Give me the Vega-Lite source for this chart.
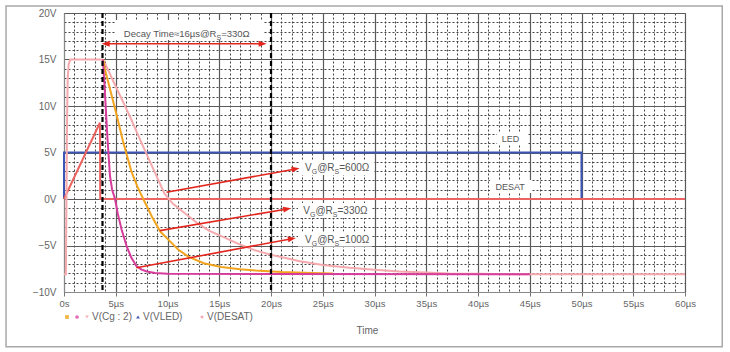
{
"$schema":"https://vega.github.io/schema/vega-lite/v6.json",
"width":621,"height":279,"autosize":"none",
"padding":{"left":64,"top":13,"right":45,"bottom":60},
"background":"white",
"config":{"font":"Liberation Sans, Arial, sans-serif","view":{"stroke":"#888","strokeWidth":1}},
"datasets":{
"curves":[
{"series":"VLED","t":0,"v":0},{"series":"VLED","t":0.001,"v":5},{"series":"VLED","t":49.999,"v":5},{"series":"VLED","t":50,"v":0},
{"series":"DESAT","t":0,"v":0},{"series":"DESAT","t":3.47,"v":8.2},{"series":"DESAT","t":3.5,"v":0},{"series":"DESAT","t":60,"v":0},
{"series":"g600","t":0,"v":-8.1},{"series":"g600","t":0.18,"v":-8.1},{"series":"g600","t":0.24,"v":0},{"series":"g600","t":0.3,"v":9},{"series":"g600","t":0.36,"v":13},{"series":"g600","t":0.45,"v":14.5},{"series":"g600","t":0.6,"v":15},{"series":"g600","t":3.7,"v":15},{"series":"g600","t":4.0,"v":14.5},{"series":"g600","t":5.0,"v":12.1},{"series":"g600","t":6.4,"v":8.8},{"series":"g600","t":7.5,"v":6},{"series":"g600","t":8.8,"v":2.8},{"series":"g600","t":9.7,"v":0.6},{"series":"g600","t":10.5,"v":-0.5},{"series":"g600","t":11.4,"v":-1.3},{"series":"g600","t":12.9,"v":-2.6},{"series":"g600","t":14,"v":-3.4},{"series":"g600","t":15.2,"v":-4.0},{"series":"g600","t":16.8,"v":-4.8},{"series":"g600","t":18.4,"v":-5.5},{"series":"g600","t":20,"v":-6.0},{"series":"g600","t":22.8,"v":-6.7},{"series":"g600","t":25,"v":-7.1},{"series":"g600","t":27.6,"v":-7.4},{"series":"g600","t":30,"v":-7.6},{"series":"g600","t":32.4,"v":-7.8},{"series":"g600","t":35,"v":-7.9},{"series":"g600","t":37.2,"v":-8.0},{"series":"g600","t":40,"v":-8.05},{"series":"g600","t":45,"v":-8.1},{"series":"g600","t":60,"v":-8.1},
{"series":"g330","t":3.8,"v":15},{"series":"g330","t":3.9,"v":14.2},{"series":"g330","t":5.0,"v":9.4},{"series":"g330","t":5.7,"v":6.2},{"series":"g330","t":6.5,"v":3.0},{"series":"g330","t":7.1,"v":1.3},{"series":"g330","t":7.66,"v":0},{"series":"g330","t":8.5,"v":-1.9},{"series":"g330","t":9.3,"v":-3.5},{"series":"g330","t":10.1,"v":-4.4},{"series":"g330","t":11.0,"v":-5.4},{"series":"g330","t":12.0,"v":-6.2},{"series":"g330","t":13.5,"v":-6.9},{"series":"g330","t":15.2,"v":-7.3},{"series":"g330","t":17.0,"v":-7.55},{"series":"g330","t":18.5,"v":-7.7},{"series":"g330","t":21,"v":-7.85},{"series":"g330","t":24,"v":-7.95},{"series":"g330","t":26,"v":-8.0},
{"series":"g100","t":3.75,"v":15},{"series":"g100","t":3.9,"v":12.5},{"series":"g100","t":4.05,"v":9.5},{"series":"g100","t":4.2,"v":6.5},{"series":"g100","t":4.44,"v":2.5},{"series":"g100","t":4.65,"v":1.0},{"series":"g100","t":4.93,"v":0},{"series":"g100","t":5.2,"v":-1.6},{"series":"g100","t":5.57,"v":-3.3},{"series":"g100","t":6.06,"v":-5.1},{"series":"g100","t":6.5,"v":-6.3},{"series":"g100","t":7.0,"v":-7.2},{"series":"g100","t":7.5,"v":-7.6},{"series":"g100","t":8.0,"v":-7.8},{"series":"g100","t":8.8,"v":-7.95},{"series":"g100","t":10,"v":-8.05},{"series":"g100","t":45,"v":-8.1}
],
"cursors":[{"t":3.72},{"t":20}],
"arrows":[{"t":9.9,"v":0.72,"t2":22.38,"v2":3.23},{"t":9.26,"v":-3.4,"t2":21.57,"v2":-1.07},{"t":7.0,"v":-7.4,"t2":22.02,"v2":-4.27}],
"span":[{"t":4.03,"t2":19.19,"v":16.7}],
"frame":[{"t":-5.6,"t2":63.6,"v":20.75,"v2":-15.9}],
"heads":[{"t":22.38,"v":3.23,"dir":"slant"},{"t":21.57,"v":-1.07,"dir":"slant"},{"t":22.02,"v":-4.27,"dir":"slant"},{"t":4.03,"v":16.7,"dir":"left"},{"t":19.19,"v":16.7,"dir":"right"}],
"boxes":[{"t":12.08,"v":18.17,"kind":"decay"},{"t":26.38,"v":3.39,"kind":"vg"},{"t":26.18,"v":-1.24,"kind":"vg"},{"t":26.18,"v":-4.3,"kind":"vg"},{"t":43.29,"v":6.56,"kind":"led"},{"t":43.19,"v":1.34,"kind":"desat"}],
"vglabels":[{"t":26.14,"v":3.05,"rest":"=600Ω"},{"t":25.97,"v":-1.65,"rest":"=330Ω"},{"t":26.14,"v":-4.76,"rest":"=100Ω"}],
"decay":[{"t":14.73,"v":17.45}],
"names":[{"t":43.14,"v":6.5,"label":"LED"},{"t":43.1,"v":1.29,"label":"DESAT"}]
},
"encoding":{
  "x":{"field":"t","type":"quantitative","scale":{"domain":[0,60],"nice":false,"zero":false},
   "axis":{"values":[0,1,2,3,4,5,6,7,8,9,10,11,12,13,14,15,16,17,18,19,20,21,22,23,24,25,26,27,28,29,30,31,32,33,34,35,36,37,38,39,40,41,42,43,44,45,46,47,48,49,50,51,52,53,54,55,56,57,58,59,60],
    "title":"Time","titleColor":"#666","titleFontWeight":"normal","titleFontSize":10,"titleX":303,"titleY":33,"titleBaseline":"top",
    "labelExpr":"datum.value % 5 !== 0 ? '' : (datum.value === 0 ? '0s' : datum.value + 'µs')",
    "labelOverlap":false,"labelFlush":false,"labelColor":"#666","labelFontSize":9.5,"labelPadding":2,
    "ticks":true,"tickSize":4,"tickColor":"#777","tickOpacity":{"condition":{"test":"datum.value % 5 === 0","value":1},"value":0},
    "grid":true,"gridColor":{"condition":{"test":"datum.value % 5 === 0","value":"#5a5a5a"},"value":"#444"},
    "gridDash":{"condition":{"test":"datum.value % 5 === 0","value":[]},"value":[2,2]},
    "gridWidth":{"condition":{"test":"datum.value % 5 === 0","value":1.2},"value":1},
    "domain":true,"domainColor":"#888"}},
  "y":{"field":"v","type":"quantitative","scale":{"domain":[-10,20],"nice":false,"zero":false},
   "axis":{"values":[-10,-9,-8,-7,-6,-5,-4,-3,-2,-1,0,1,2,3,4,5,6,7,8,9,10,11,12,13,14,15,16,17,18,19,20],
    "title":null,
    "labelExpr":"datum.value % 5 !== 0 ? '' : format(datum.value, 'd') + 'V'",
    "labelOverlap":false,"labelColor":"#666","labelFontSize":10,"labelPadding":8,"ticks":false,
    "grid":true,"gridColor":{"condition":{"test":"datum.value % 5 === 0","value":"#5a5a5a"},"value":"#444"},
    "gridDash":{"condition":{"test":"datum.value % 5 === 0","value":[]},"value":[2,2]},
    "gridWidth":{"condition":{"test":"datum.value % 5 === 0","value":1.2},"value":1},
    "domain":true,"domainColor":"#888"}}
},
"layer":[
{"data":{"name":"curves"},"transform":[{"filter":"datum.series === 'VLED'"}],"mark":{"type":"line","strokeWidth":2},
 "encoding":{
  "color":{"field":"series","type":"nominal",
   "scale":{"domain":["g330","g100","g600","VLED","DESAT"],"range":["#f2a41f","#d63c9b","#f5a9ad","#3c55b4","#ec6461"]},
   "legend":{"orient":"none","legendX":-2,"legendY":299,"direction":"horizontal","title":null,"padding":0,
    "labelExpr":"datum.value === 'g600' ? 'V(Cg : 2)' : datum.value === 'VLED' ? 'V(VLED)\u2800\u2800' : datum.value === 'DESAT' ? 'V(DESAT)' : ''",
    "labelFontSize":10,"labelColor":"#666","labelOffset":0,"columnPadding":0,"symbolSize":14,"symbolType":"circle","symbolStrokeWidth":0,
    "encode":{"symbols":{"update":{
     "shape":{"signal":"datum.value === 'g330' ? 'square' : datum.value === 'g100' ? 'circle' : datum.value === 'g600' ? 'triangle-down' : datum.value === 'VLED' ? 'triangle-up' : 'diamond'"},
     "fill":{"signal":"datum.value === 'g330' ? '#f2b640' : datum.value === 'g100' ? '#e070b8' : datum.value === 'g600' ? '#f5b3bb' : datum.value === 'VLED' ? '#4057b0' : '#f3a9b2'"},
     "fillOpacity":{"value":1},"strokeWidth":{"value":0}}}}}}
 }},
{"data":{"name":"frame"},"mark":{"type":"rect","fillOpacity":0,"stroke":"#a8a8a8","strokeWidth":1.5,"clip":false},
 "encoding":{"x2":{"field":"t2"},"y2":{"field":"v2"}}},
{"data":{"name":"boxes"},"transform":[{"filter":"datum.kind === 'decay'"}],"mark":{"type":"point","shape":"M-74,-10H74V10H-74Z","size":4,"filled":true,"fill":"white","opacity":1,"strokeWidth":0}},
{"data":{"name":"boxes"},"transform":[{"filter":"datum.kind === 'vg'"}],"mark":{"type":"point","shape":"M-37,-7.5H37V7.5H-37Z","size":4,"filled":true,"fill":"white","opacity":1,"strokeWidth":0}},
{"data":{"name":"boxes"},"transform":[{"filter":"datum.kind === 'led'"}],"mark":{"type":"point","shape":"M-15,-6H15V6H-15Z","size":4,"filled":true,"fill":"white","opacity":1,"strokeWidth":0}},
{"data":{"name":"boxes"},"transform":[{"filter":"datum.kind === 'desat'"}],"mark":{"type":"point","shape":"M-21,-6.5H21V6.5H-21Z","size":4,"filled":true,"fill":"white","opacity":1,"strokeWidth":0}},
{"data":{"name":"curves"},"transform":[{"filter":"datum.series === 'DESAT'"}],"mark":{"type":"line","strokeWidth":2},
 "encoding":{"color":{"field":"series","type":"nominal"}}},
{"data":{"name":"curves"},"transform":[{"filter":"datum.series === 'g600'"}],"mark":{"type":"line","strokeWidth":2},
 "encoding":{"color":{"field":"series","type":"nominal"}}},
{"data":{"name":"curves"},"transform":[{"filter":"datum.series === 'g330'"}],"mark":{"type":"line","strokeWidth":2},
 "encoding":{"color":{"field":"series","type":"nominal"}}},
{"data":{"name":"curves"},"transform":[{"filter":"datum.series === 'g100'"}],"mark":{"type":"line","strokeWidth":2},
 "encoding":{"color":{"field":"series","type":"nominal"}}},
{"data":{"name":"cursors"},"mark":{"type":"rule","stroke":"black","strokeWidth":2.2,"strokeDash":[5,3]},
 "encoding":{"y":null}},
{"data":{"name":"arrows"},"mark":{"type":"rule","stroke":"#e3261d","strokeWidth":1.6},
 "encoding":{"x2":{"field":"t2"},"y2":{"field":"v2"}}},
{"data":{"name":"span"},"mark":{"type":"rule","stroke":"#e3261d","strokeWidth":1.6},
 "encoding":{"x2":{"field":"t2"}}},
{"data":{"name":"heads"},"transform":[{"filter":"datum.dir === 'slant'"}],"mark":{"type":"point","shape":"M4,0L-4,-3L-4,3Z","size":4,"angle":-10,"filled":true,"fill":"#e3261d","opacity":1,"strokeWidth":0}},
{"data":{"name":"heads"},"transform":[{"filter":"datum.dir === 'left'"}],"mark":{"type":"point","shape":"M4,0L-4,-3L-4,3Z","size":4,"angle":180,"filled":true,"fill":"#e3261d","opacity":1,"strokeWidth":0}},
{"data":{"name":"heads"},"transform":[{"filter":"datum.dir === 'right'"}],"mark":{"type":"point","shape":"M4,0L-4,-3L-4,3Z","size":4,"angle":0,"filled":true,"fill":"#e3261d","opacity":1,"strokeWidth":0}},
{"data":{"name":"vglabels"},"mark":{"type":"text","text":"V","align":"right","baseline":"alphabetic","dx":-22.8,"fontSize":10,"color":"#555"}},
{"data":{"name":"vglabels"},"mark":{"type":"text","text":"G","align":"right","baseline":"alphabetic","dx":-17.4,"dy":3,"fontSize":7,"color":"#555"}},
{"data":{"name":"vglabels"},"mark":{"type":"text","text":"@R","align":"right","baseline":"alphabetic","fontSize":10,"color":"#555"}},
{"data":{"name":"vglabels"},"mark":{"type":"text","text":"S","align":"left","baseline":"alphabetic","dy":3,"fontSize":7,"color":"#555"}},
{"data":{"name":"vglabels"},"mark":{"type":"text","align":"left","baseline":"alphabetic","dx":4.7,"fontSize":10,"color":"#555"},
 "encoding":{"text":{"field":"rest"}}},
{"data":{"name":"decay"},"mark":{"type":"text","text":"Decay Time≈16µs@R","align":"right","baseline":"alphabetic","fontSize":9.5,"color":"#555"}},
{"data":{"name":"decay"},"mark":{"type":"text","text":"S","align":"left","baseline":"alphabetic","dy":3,"fontSize":7,"color":"#555"}},
{"data":{"name":"decay"},"mark":{"type":"text","text":"=330Ω","align":"left","baseline":"alphabetic","dx":4.7,"fontSize":9.5,"color":"#555"}},
{"data":{"name":"names"},"mark":{"type":"text","align":"center","baseline":"middle","fontSize":9,"color":"#555"},
 "encoding":{"text":{"field":"label"}}}
]
}
